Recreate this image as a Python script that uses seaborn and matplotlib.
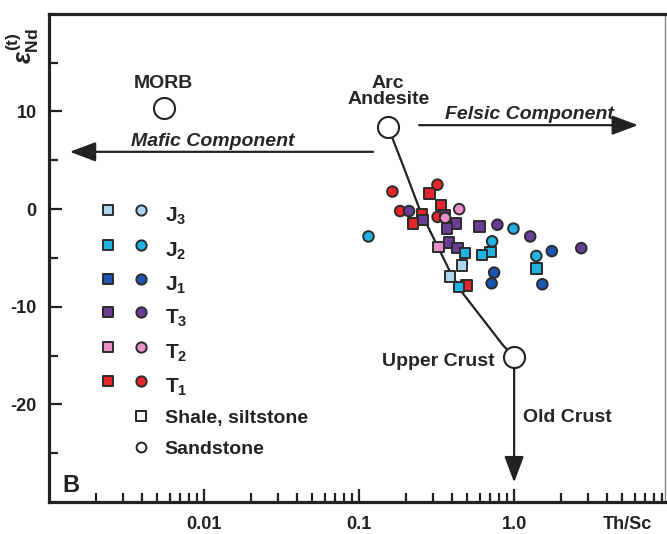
import numpy as np
import pandas as pd
import matplotlib
matplotlib.use("Agg")
import matplotlib.pyplot as plt
from matplotlib.ticker import LogLocator, NullFormatter, FixedLocator
import seaborn as sns

sns.set_style("white")
plt.rcParams['font.family'] = ['Liberation Sans', 'DejaVu Sans']
plt.rcParams['font.weight'] = 'bold'
plt.rcParams['axes.unicode_minus'] = False
plt.rcParams['mathtext.fontset'] = 'custom'
plt.rcParams['mathtext.rm'] = 'Liberation Sans:bold'
plt.rcParams['mathtext.it'] = 'Liberation Sans:bold:italic'
plt.rcParams['mathtext.bf'] = 'Liberation Sans:bold'

# Th/Sc and eNd(t) per unit, split by lithology
t1_sand_x = [0.164, 0.320, 0.184, 0.321]
t1_sand_y = [1.8, 2.5, -0.2, -0.8]
t1_shale_x = [0.284, 0.338, 0.255, 0.222, 0.495]
t1_shale_y = [1.6, 0.4, -0.5, -1.5, -7.8]
t2_sand_x = [0.442, 0.359]
t2_sand_y = [0.0, -0.9]
t2_shale_x = [0.325]
t2_shale_y = [-3.9]
t3_sand_x = [0.210, 0.780, 1.27, 2.71]
t3_sand_y = [-0.2, -1.6, -2.8, -4.0]
t3_shale_x = [0.258, 0.359, 0.421, 0.368, 0.597, 0.381, 0.431]
t3_shale_y = [-1.1, -0.6, -1.5, -2.0, -1.8, -3.4, -4.0]
j1_sand_x = [1.75, 0.743, 0.716, 1.52]
j1_sand_y = [-4.3, -6.5, -7.6, -7.7]
j2_sand_x = [0.115, 0.99, 0.721, 1.39]
j2_sand_y = [-2.8, -2.0, -3.3, -4.8]
j2_shale_x = [0.483, 0.705, 0.619, 1.39, 0.442]
j2_shale_y = [-4.5, -4.4, -4.7, -6.1, -8.0]
j3_shale_x = [0.460, 0.386]
j3_shale_y = [-5.8, -6.9]

# reference compositions
ref_names = ['MORB', 'Arc Andesite', 'Upper Crust']
ref_x = [0.0055, 0.154, 1.0]
ref_y = [10.4, 8.4, -15.1]

# mixing curve arc andesite -> upper crust
mix_x = [0.154, 0.195, 0.248, 0.386, 0.460, 0.853, 1.0]
mix_y = [8.4, 4.2, -0.2, -6.4, -8.5, -14.0, -15.1]

units = ['J3', 'J2', 'J1', 'T3', 'T2', 'T1']
colors = {'J3': '#aed6ee', 'J2': '#1fb2e3', 'J1': '#1d55b2',
          'T3': '#6a3d97', 'T2': '#e790c6', 'T1': '#e8262b'}

groups = [
    ('T1', 'shale', t1_shale_x, t1_shale_y), ('T1', 'sand', t1_sand_x, t1_sand_y),
    ('T3', 'shale', t3_shale_x, t3_shale_y), ('T3', 'sand', t3_sand_x, t3_sand_y),
    ('T2', 'shale', t2_shale_x, t2_shale_y), ('T2', 'sand', t2_sand_x, t2_sand_y),
    ('J1', 'sand', j1_sand_x, j1_sand_y),
    ('J2', 'shale', j2_shale_x, j2_shale_y), ('J2', 'sand', j2_sand_x, j2_sand_y),
    ('J3', 'shale', j3_shale_x, j3_shale_y),
]
rows = []
for u, r, xs, ys in groups:
    for x, y in zip(xs, ys):
        rows.append({'ThSc': x, 'eNd': y, 'unit': u, 'rock': r})
df = pd.DataFrame(rows)

ink = '#222222'
fig = plt.figure(figsize=(6.67, 5.34), dpi=100)
ax = fig.add_axes([0.0735, 0.06, 0.9235, 0.914])

ax.plot(mix_x, mix_y, color=ink, lw=1.6, zorder=2)

sns.scatterplot(data=df, x='ThSc', y='eNd', hue='unit', style='rock',
                palette=colors, markers={'shale': 's', 'sand': 'o'},
                s=58, edgecolor='#2b2b2b', linewidth=1.4, legend=False,
                zorder=3, ax=ax)

arrow = dict(arrowstyle='-|>,head_length=0.8,head_width=0.3', color=ink,
             lw=1.6, mutation_scale=20, shrinkA=0, shrinkB=0)
ax.annotate('', xy=(0.00136, 5.87), xytext=(0.123, 5.87), arrowprops=arrow, zorder=2)
ax.annotate('', xy=(6.3, 8.6), xytext=(0.244, 8.6), arrowprops=arrow, zorder=2)
ax.annotate('', xy=(1.0, -28.0), xytext=(1.0, -15.1), arrowprops=arrow, zorder=2)

ax.scatter(ref_x, ref_y, s=230, facecolor='white', edgecolor=ink, linewidth=1.5, zorder=4)

fs = 14
ax.text(0.0055, 12.4, 'MORB', ha='center', va='baseline', fontsize=fs)
ax.text(0.154, 10.76, 'Arc\nAndesite', ha='center', va='baseline', fontsize=fs,
        linespacing=0.95, multialignment='center')
ax.text(0.754, -16.1, 'Upper Crust', ha='right', va='baseline', fontsize=fs)
ax.text(1.143, -21.8, 'Old Crust', ha='left', va='baseline', fontsize=fs)
ax.text(0.01143, 6.5, 'Mafic Component', ha='center', va='baseline', fontsize=fs,
        style='italic')
ax.text(1.25, 9.2, 'Felsic Component', ha='center', va='baseline', fontsize=fs,
        style='italic')

ax.set_xscale('log')
ax.set_xlim(0.001, 9.4)
ax.set_ylim(-30, 20)
ax.xaxis.set_major_locator(FixedLocator([0.01, 0.1, 1.0]))
ax.set_xticklabels(['0.01', '0.1', '1.0'])
ax.xaxis.set_minor_locator(LogLocator(base=10, subs=np.arange(2, 10)))
ax.xaxis.set_minor_formatter(NullFormatter())
ax.set_yticks([-20, -10, 0, 10])
ax.set_yticks([-25, -15, -5, 5, 15], minor=True)
ax.tick_params(which='both', direction='in', color=ink, width=1.6,
               labelsize=13, labelcolor=ink, bottom=True, left=True,
               top=False, right=False)
ax.tick_params(which='major', length=9.5)
ax.tick_params(which='minor', length=6.5)
ax.tick_params(axis='x', which='both', pad=10)
ax.tick_params(axis='y', which='both', pad=9)
for lab in ax.get_xticklabels() + ax.get_yticklabels():
    lab.set_fontweight('bold')
ax.set_xlabel('')
ax.set_ylabel('')
for side in ['left', 'bottom', 'top']:
    ax.spines[side].set_linewidth(2.3)
    ax.spines[side].set_color(ink)
ax.spines['right'].set_linewidth(1.0)
ax.spines['right'].set_color('#888888')

ax.text(5.4, -0.046, 'Th/Sc', transform=ax.get_xaxis_transform(),
        ha='center', va='center', fontsize=13, color=ink)
ax.text(-0.043, 0.935, r'$\varepsilon_{\mathrm{Nd}}^{\mathrm{(t)}}$', transform=ax.transAxes,
        rotation=90, ha='center', va='center', fontsize=18, color=ink)
ax.text(0.021, 0.02, 'B', transform=ax.transAxes, ha='left', va='baseline',
        fontsize=17, color=ink)

# legend drawn by hand
row_y = [0.598, 0.527, 0.457, 0.389, 0.318, 0.248]
for u, yy in zip(units, row_y):
    ax.scatter([0.0958], [yy], marker='s', s=55, facecolor=colors[u], edgecolor='#2b2b2b',
               linewidth=1.4, transform=ax.transAxes, clip_on=False, zorder=5)
    ax.scatter([0.149], [yy], marker='o', s=55, facecolor=colors[u], edgecolor='#2b2b2b',
               linewidth=1.4, transform=ax.transAxes, clip_on=False, zorder=5)
    ax.text(0.188, yy - 0.0246, r'$\mathrm{%s}_{%s}$' % (u[0], u[1]), transform=ax.transAxes,
            ha='left', va='baseline', fontsize=15, color=ink)
ax.scatter([0.149], [0.176], marker='s', s=50, facecolor='white', edgecolor=ink,
           linewidth=1.4, transform=ax.transAxes, zorder=5)
ax.text(0.188, 0.176 - 0.0143, 'Shale, siltstone', transform=ax.transAxes,
        ha='left', va='baseline', fontsize=14, color=ink)
ax.scatter([0.149], [0.113], marker='o', s=50, facecolor='white', edgecolor=ink,
           linewidth=1.4, transform=ax.transAxes, zorder=5)
ax.text(0.188, 0.113 - 0.0143, 'Sandstone', transform=ax.transAxes,
        ha='left', va='baseline', fontsize=14, color=ink)

fig.savefig('out.png', dpi=100)
